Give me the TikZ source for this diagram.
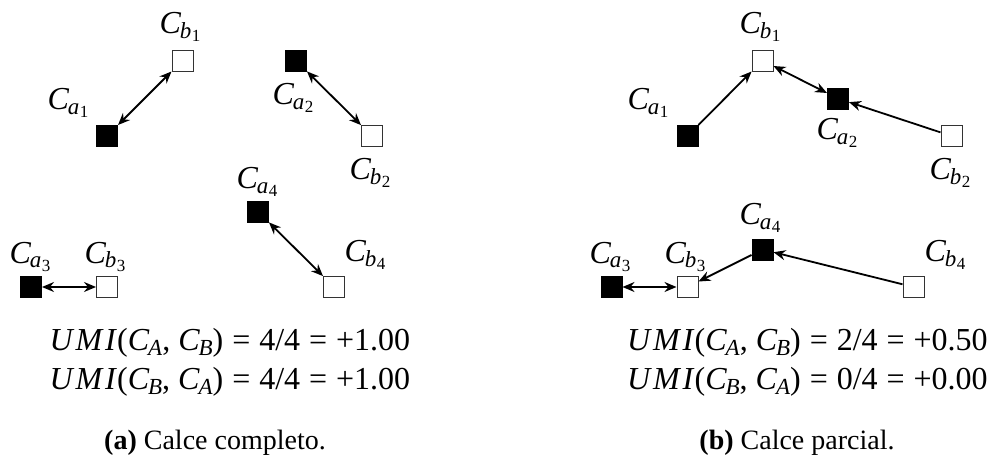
\documentclass[tikz,border=0pt]{standalone}
\usepackage{fontspec}
\setmainfont{Liberation Serif}
\usetikzlibrary{arrows.meta}
\newcommand\lblC[2]{\textit{C}\kern-0.04em\raisebox{-0.28ex}{\fontsize{11.5}{12}\selectfont\textit{#1}\kern0.02em\raisebox{-0.3ex}{\fontsize{8.5}{9}\selectfont #2}}}
\newcommand\eqC[1]{\textit{C}\kern-0.04em\raisebox{-0.3ex}{\fontsize{11.5}{12}\selectfont\textit{#1}}}
\newcommand\UMI{\textit{U\kern0.09em M\kern0.09em I}}
\newcommand\myeq{\hspace{0.28em}=\hspace{0.28em}}
\tikzset{
  blk/.style={draw=black, fill=black, minimum size=10.5pt, inner sep=0pt, line width=0.5pt},
  wht/.style={draw=black!80, fill=white, minimum size=10.5pt, inner sep=0pt, line width=0.5pt},
  lbl/.style={inner sep=0pt, font=\fontsize{16}{18}\selectfont},
  con/.style={line width=0.9pt, -{Stealth[length=6pt,width=5pt,inset=2pt]}},
  bicon/.style={line width=0.9pt, {Stealth[length=6pt,width=5pt,inset=2pt]}-{Stealth[length=6pt,width=5pt,inset=2pt]}},
  eqtext/.style={inner sep=0pt, font=\fontsize{16}{18}\selectfont},
  captext/.style={inner sep=0pt, font=\fontsize{14}{16}\selectfont}
}
\begin{document}
\begin{tikzpicture}[x=0.5pt,y=-0.5pt]
\useasboundingbox (0,0) rectangle (1003,466);
% ---------- panel (a)
\node[wht] (lb1) at (182.5,60.5) {};
\node[blk] (la1) at (107,136) {};
\node[blk] (la2) at (296,60.5) {};
\node[wht] (lb2) at (372,136) {};
\node[blk] (la4) at (258,211.5) {};
\node[wht] (lb4) at (334,287) {};
\node[blk] (la3) at (31,287) {};
\node[wht] (lb3) at (107,287) {};
\node[lbl] (tlb1) at (180,27) {\lblC{b}{1}};
\node[lbl] (tla1) at (68,103) {\lblC{a}{1}};
\node[lbl] (tla2) at (293,98) {\lblC{a}{2}};
\node[lbl] (tlb2) at (370,173) {\lblC{b}{2}};
\node[lbl] (tla4) at (257,182) {\lblC{a}{4}};
\node[lbl] (tlb4) at (365,255) {\lblC{b}{4}};
\node[lbl] (tla3) at (30,257) {\lblC{a}{3}};
\node[lbl] (tlb3) at (105,257) {\lblC{b}{3}};
\draw[bicon] (la1) -- (lb1);
\draw[bicon] (la2) -- (lb2);
\draw[bicon] (la4) -- (lb4);
\draw[bicon] (la3) -- (lb3);
\node[eqtext] (leq1) at (230,343) {\UMI(\eqC{A}, \eqC{B})\myeq4/4\myeq+1.00};
\node[eqtext] (leq2) at (230,382) {\UMI(\eqC{B}, \eqC{A})\myeq4/4\myeq+1.00};
\node[captext] (lcap) at (215,443) {\textbf{(a)} Calce completo.};
% ---------- panel (b)
\node[wht] (rb1) at (762.5,60.5) {};
\node[blk] (ra1) at (687.5,136) {};
\node[blk] (ra2) at (838,98.5) {};
\node[wht] (rb2) at (951.5,136) {};
\node[blk] (ra4) at (762.5,249.5) {};
\node[wht] (rb4) at (913.5,287) {};
\node[blk] (ra3) at (611.5,287) {};
\node[wht] (rb3) at (687.5,287) {};
\node[lbl] (trb1) at (760,27) {\lblC{b}{1}};
\node[lbl] (tra1) at (648,103) {\lblC{a}{1}};
\node[lbl] (tra2) at (837,133) {\lblC{a}{2}};
\node[lbl] (trb2) at (950,173) {\lblC{b}{2}};
\node[lbl] (tra4) at (760,218) {\lblC{a}{4}};
\node[lbl] (trb4) at (945,255) {\lblC{b}{4}};
\node[lbl] (tra3) at (610,257) {\lblC{a}{3}};
\node[lbl] (trb3) at (685,257) {\lblC{b}{3}};
\draw[con] (ra1) -- (rb1);
\draw[bicon] (rb1) -- (ra2);
\draw[con] (rb2) -- (ra2);
\draw[con] (ra4) -- (rb3);
\draw[con] (rb4) -- (ra4);
\draw[bicon] (ra3) -- (rb3);
\node[eqtext] (req1) at (807.5,343) {\UMI(\eqC{A}, \eqC{B})\myeq2/4\myeq+0.50};
\node[eqtext] (req2) at (807.5,382) {\UMI(\eqC{B}, \eqC{A})\myeq0/4\myeq+0.00};
\node[captext] (rcap) at (797,443) {\textbf{(b)} Calce parcial.};
\end{tikzpicture}
\end{document}
